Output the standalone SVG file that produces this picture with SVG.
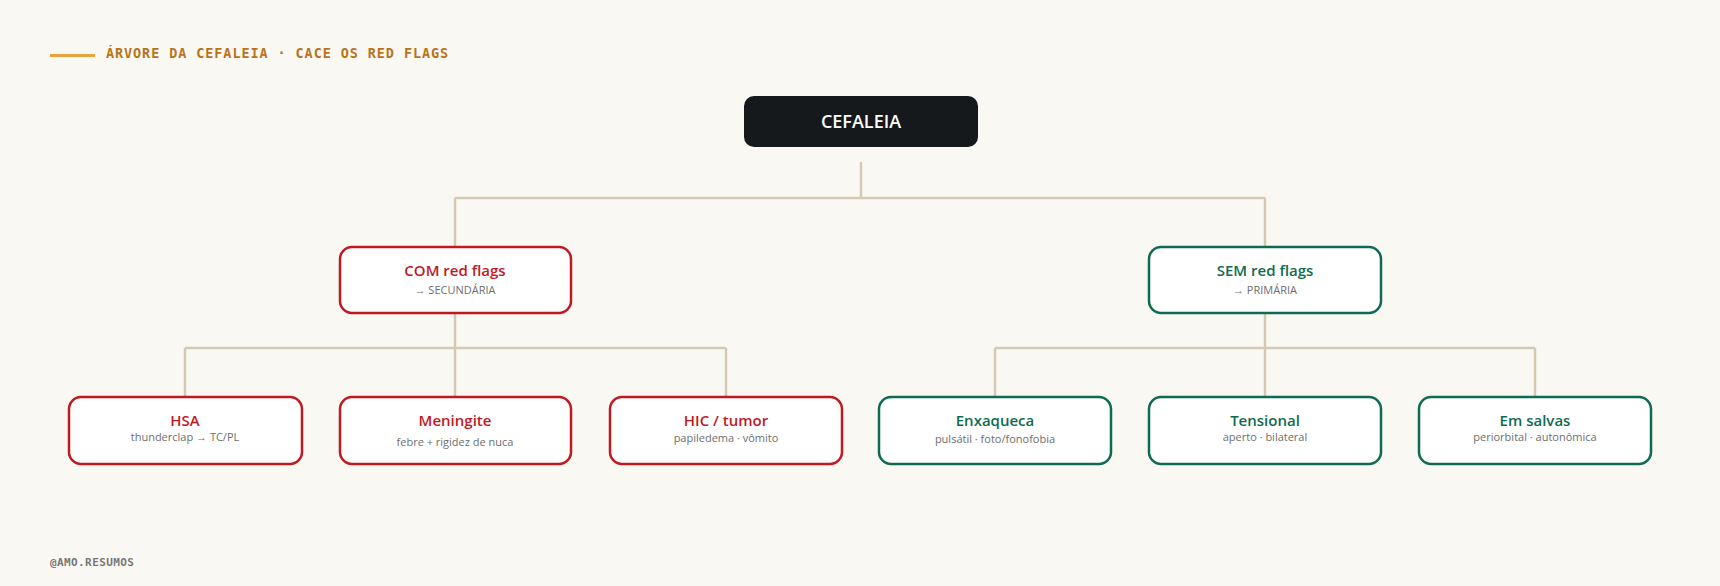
<svg xmlns="http://www.w3.org/2000/svg" width="1720" height="586" viewBox="0 0 1720 586">
<style>
.bg{fill:#faf8f3}
.con{fill:none;stroke:#d4c9b4;stroke-width:2.5}
.red{fill:#fff;stroke:#c0191f;stroke-width:2.5}
.grn{fill:#fff;stroke:#0f6b50;stroke-width:2.5}
.t{font-family:"Open Sans","Noto Sans",sans-serif;text-anchor:middle;font-weight:600;font-size:15px}
.s{font-family:"Open Sans","Noto Sans",sans-serif;text-anchor:middle;font-size:11px;fill:#6e6e6e}
.tr{fill:#c0191f}.tg{fill:#0f6b50}
.mono{font-family:"DejaVu Sans Mono","Liberation Mono",monospace;font-weight:bold}
</style>
<rect class="bg" width="1720" height="586"/>
<rect x="50" y="54" width="45" height="3" fill="#e8a33d"/>
<text x="106" y="58" class="mono" font-size="13.5" letter-spacing="0.9" fill="#b8731a">ÁRVORE DA CEFALEIA · CACE OS RED FLAGS</text>
<g id="connectors">
<path class="con" d="M861 162V198M455 198H1265M455 198V247M1265 198V247"/>
<path class="con" d="M455 313V348M185 348H726M185 348V397M455 348V397M726 348V397"/>
<path class="con" d="M1265 313V348M995 348H1535M995 348V397M1265 348V397M1535 348V397"/>
</g>
<g id="root"><rect x="744" y="96" width="234" height="51" rx="10" fill="#15191c"/><text x="861" y="128" class="t" style="font-size:18px" fill="#fff">CEFALEIA</text></g>
<g id="com"><rect class="red" x="340" y="247" width="231" height="66" rx="12"/><text x="455" y="276" class="t tr">COM red flags</text><text x="455" y="294" class="s">→ SECUNDÁRIA</text></g>
<g id="sem"><rect class="grn" x="1149" y="247" width="232" height="66" rx="12"/><text x="1265" y="276" class="t tg">SEM red flags</text><text x="1265" y="294" class="s">→ PRIMÁRIA</text></g>
<g id="hsa"><rect class="red" x="69" y="397" width="233" height="67" rx="12"/><text x="185" y="426" class="t tr">HSA</text><text x="185" y="441" class="s">thunderclap → TC/PL</text></g>
<g id="meningite"><rect class="red" x="340" y="397" width="231" height="67" rx="12"/><text x="455" y="426" class="t tr">Meningite</text><text x="455" y="446" class="s">febre + rigidez de nuca</text></g>
<g id="hic"><rect class="red" x="610" y="397" width="232" height="67" rx="12"/><text x="726" y="426" class="t tr">HIC / tumor</text><text x="726" y="442" class="s">papiledema · vômito</text></g>
<g id="enxaqueca"><rect class="grn" x="879" y="397" width="232" height="67" rx="12"/><text x="995" y="426" class="t tg">Enxaqueca</text><text x="995" y="443" class="s">pulsátil · foto/fonofobia</text></g>
<g id="tensional"><rect class="grn" x="1149" y="397" width="232" height="67" rx="12"/><text x="1265" y="426" class="t tg">Tensional</text><text x="1265" y="441" class="s">aperto · bilateral</text></g>
<g id="salvas"><rect class="grn" x="1419" y="397" width="232" height="67" rx="12"/><text x="1535" y="426" class="t tg">Em salvas</text><text x="1535" y="441" class="s">periorbital · autonômica</text></g>
<text x="50" y="566" class="mono" font-size="11" letter-spacing="0.4" fill="#777">@AMO.RESUMOS</text>
</svg>
